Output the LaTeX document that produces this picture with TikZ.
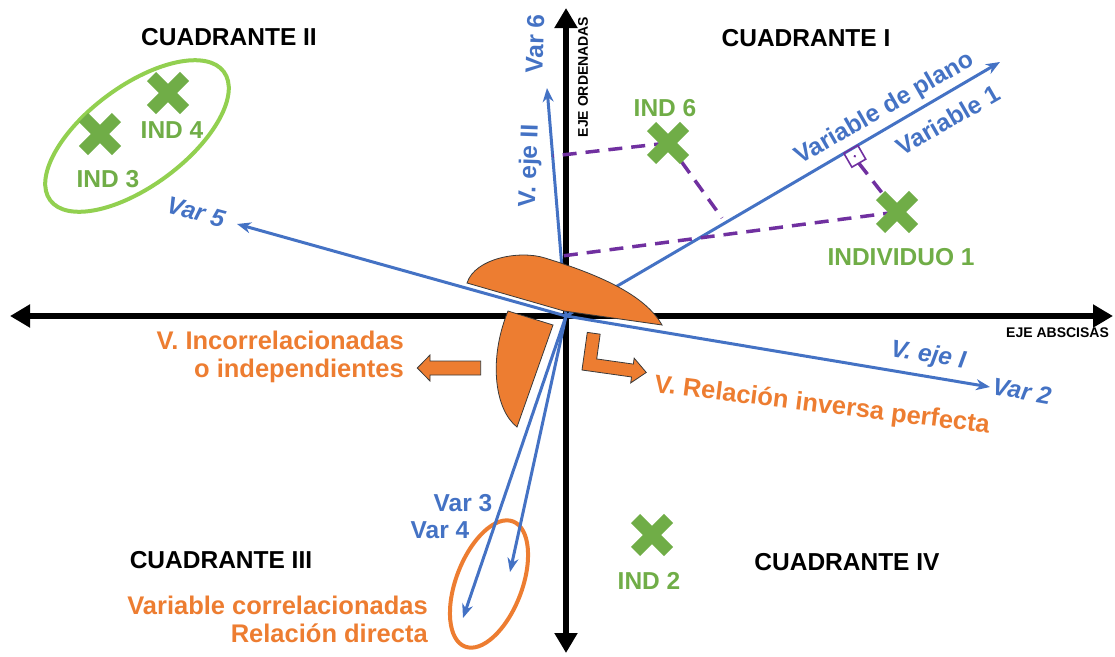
\documentclass[tikz,border=0pt]{standalone}
\usepackage{fontspec}
\setmainfont{Liberation Sans}
\usetikzlibrary{arrows.meta}
\definecolor{cblue}{HTML}{4472C4}
\definecolor{corange}{HTML}{ED7D31}
\definecolor{cgreen}{HTML}{70AD47}
\definecolor{lgreen}{HTML}{92D050}
\definecolor{cpurple}{HTML}{7030A0}
\definecolor{edgecol}{HTML}{3A3A3A}
\begin{document}
\begin{tikzpicture}[x=1pt,y=-1pt,
  axis/.style={line width=6pt, black, {Triangle[length=20pt,width=22pt]}-{Triangle[length=20pt,width=22pt]}},
  vec/.style={line width=3pt, cblue, -{Stealth[length=14pt,width=11pt]}},
  proj/.style={line width=3.5pt, cpurple, dash pattern=on 14pt off 9pt},
  blob/.style={fill=corange, draw=edgecol, line width=0.8pt},
  lab/.style={font=\fontsize{24.5}{28}\selectfont\bfseries, inner sep=0pt},
  quad/.style={lab, black},
  ind/.style={lab, cgreen},
  vlab/.style={lab, cblue},
  vilab/.style={lab, cblue, font=\fontsize{24.5}{28}\selectfont\bfseries\itshape},
  olab/.style={lab, corange, font=\fontsize{25.5}{28}\selectfont\bfseries, align=right},
  smalllab/.style={font=\fontsize{14}{16}\selectfont\bfseries, inner sep=0pt},
  xcross/.pic={\draw[line width=13pt, cgreen] (-16.5,-16.5)--(16.5,16.5) (-16.5,16.5)--(16.5,-16.5);}
]
\useasboundingbox (0,0) rectangle (1115,656);

% coordinates
\coordinate (O) at (566,316);
\coordinate (xL) at (10,316);
\coordinate (xR) at (1113,316);
\coordinate (yT) at (566,8);
\coordinate (yB) at (566,653);
\coordinate (v1) at (1000,62);
\coordinate (v2) at (990,387);
\coordinate (v3) at (510,572);
\coordinate (v4) at (463,618);
\coordinate (v5) at (237,224);
\coordinate (v6) at (547,88);
\coordinate (i1) at (897,212);
\coordinate (i2) at (652,535);
\coordinate (i3) at (100,134);
\coordinate (i4) at (168,93);
\coordinate (i6) at (668,143);
\coordinate (p6a) at (553,156);
\coordinate (p6b) at (722,218);
\coordinate (p1a) at (562,256);

% axes
\draw[axis] (xL) -- (xR);
\draw[axis] (yB) -- (yT);

% ellipses
\draw[lgreen, line width=4pt, rotate around={36.5:(137,136)}] (137,136) ellipse [x radius=108, y radius=50];
\draw[corange, line width=4pt, rotate around={69:(489,584)}] (489,584) ellipse [x radius=67, y radius=33];

% vectors
\draw[vec] (O) -- (v1);
\draw[vec] (O) -- (v2);
\draw[vec] (O) -- (v3);
\draw[vec] (O) -- (v4);
\draw[vec] (O) -- (v5);
\draw[vec] (O) -- (v6);

% projections
\draw[proj] (i6) -- (p6a);
\draw[proj] (i6) -- (p6b);
\draw[proj] (i1) -- (p1a);
\begin{scope}[shift={(850.8,149.3)}, rotate=30]
  \draw[cpurple, line width=1.6pt] (-8,0) rectangle (8,16);
  \fill[cpurple] (0,8) circle (1.4pt);
  \coordinate (sq) at (0,16);
\end{scope}
\draw[proj] (sq) -- (i1);

% orange shapes
\draw[blob] (467,283) .. controls (475,258) and (520,250) .. (545,258) .. controls (600,275) and (645,295) .. (662,325) -- (564,311) -- cycle;
\draw[blob] (508,311) -- (553,325) -- (517,427) .. controls (495,410) and (488,360) .. (508,311) -- cycle;
\draw[blob] (480.7,361) -- (430,361) -- (430,355) -- (417.3,368) -- (430,381) -- (430,375) -- (480.7,375) -- cycle;
\draw[blob, shift={(582,370)}, rotate=-8] (0,0) -- (0,-38) -- (13,-38) -- (13,-13) -- (50,-13) -- (50,-19) -- (64,-6.5) -- (50,6) -- (50,0) -- cycle;

% crosses
\pic at (i1) {xcross};
\pic at (i2) {xcross};
\pic at (i3) {xcross};
\pic at (i4) {xcross};
\pic at (i6) {xcross};

% quadrant titles
\node[quad] (q2) at (229,37) {CUADRANTE II};
\node[quad] (q1) at (806,38) {CUADRANTE I};
\node[quad] (q3) at (221,560) {CUADRANTE III};
\node[quad] (q4) at (847,562) {CUADRANTE IV};
\node[smalllab, rotate=90] (eo) at (583,77) {EJE ORDENADAS};
\node[smalllab, anchor=west] (ea) at (1006,333) {EJE ABSCISAS};

% individuals
\node[ind] (l6) at (665,108) {IND 6};
\node[ind] (l1) at (901,257) {INDIVIDUO 1};
\node[ind] (l4) at (172,130) {IND 4};
\node[ind] (l3) at (108,179) {IND 3};
\node[ind] (l2) at (649,581) {IND 2};

% variable labels
\node[vilab, rotate=-15] (t5) at (196,212) {Var 5};
\node[vilab, rotate=-9] (te1) at (928,356) {V. eje I};
\node[vilab, rotate=-10] (t2) at (1022,391) {Var 2};
\node[vlab, rotate=88] (t6) at (535,44) {Var 6};
\node[vlab, rotate=88] (te2) at (530,166) {V. eje II};
\node[vlab, rotate=30] (tp) at (885,109) {Variable de plano};
\node[vlab, rotate=30] (t1) at (948,120) {Variable 1};
\node[vlab] (t3) at (463,503) {Var 3};
\node[vlab] (t4) at (440,530) {Var 4};

% orange labels
\node[olab, anchor=east] (oi) at (404,357) {V. Incorrelacionadas\\o independientes};
\node[olab, anchor=east] (oc) at (428,619) {Variable correlacionadas\\Relación directa};
\node[olab, rotate=-7] (or) at (822,406) {V. Relación inversa perfecta};
\end{tikzpicture}
\end{document}
